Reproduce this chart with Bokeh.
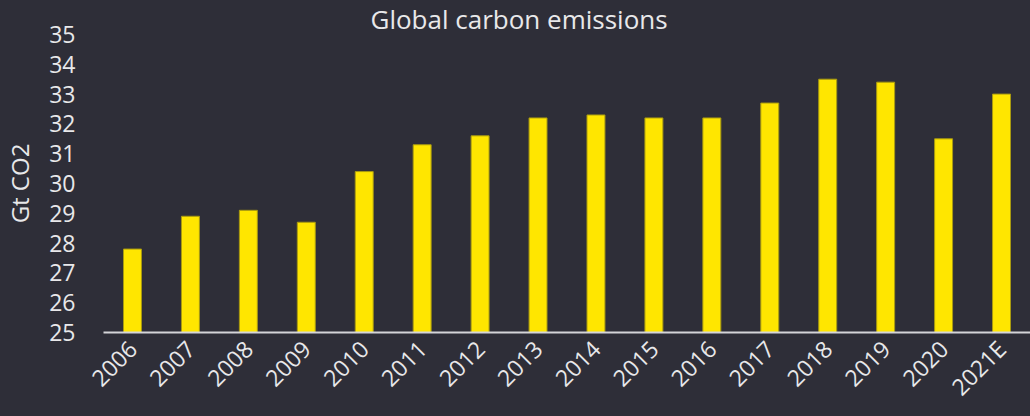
import math
from bokeh.plotting import figure
from bokeh.models import ColumnDataSource, FixedTicker, Range1d
from bokeh.embed import file_html
from bokeh.resources import INLINE

years = ["2006", "2007", "2008", "2009", "2010", "2011", "2012", "2013",
         "2014", "2015", "2016", "2017", "2018", "2019", "2020", "2021E"]
emissions = [27.8, 28.9, 29.1, 28.7, 30.4, 31.3, 31.6, 32.2,
             32.3, 32.2, 32.2, 32.7, 33.5, 33.4, 31.5, 33.0]
y_ticks = [25, 26, 27, 28, 29, 30, 31, 32, 33, 34, 35]

BG = "#2e2e38"
TXT = "#e8e8ea"
FONT = "Open Sans"

src = ColumnDataSource(dict(year=years, val=emissions))

p = figure(x_range=years, y_range=Range1d(25, 35), width=1030, height=416,
           output_backend="svg", toolbar_location=None,
           title="Global carbon emissions",
           min_border_left=100, min_border_right=0, min_border_top=30,
           min_border_bottom=83,
           background_fill_color=None, border_fill_color=None)
p.styles = {"background-color": BG}
p.outline_line_color = None

p.vbar(x="year", top="val", bottom=25, width=0.31, source=src,
       fill_color="#ffe600", line_color="#a89a10", line_width=1)

p.title.text_font = FONT
p.title.text_font_size = "26px"
p.title.text_font_style = "normal"
p.title.text_color = TXT
p.title.align = "left"
p.title.offset = 267
p.title.standoff = -4

p.xgrid.grid_line_color = None
p.ygrid.grid_line_color = None

p.yaxis.ticker = FixedTicker(ticks=y_ticks)
p.yaxis.axis_line_color = None
p.yaxis.major_tick_line_color = None
p.yaxis.minor_tick_line_color = None
p.yaxis.major_label_text_font = FONT
p.yaxis.major_label_text_font_size = "23px"
p.yaxis.major_label_text_color = TXT
p.yaxis.major_label_standoff = 22
p.yaxis.axis_label = "Gt CO2"
p.yaxis.axis_label_text_font = FONT
p.yaxis.axis_label_text_font_size = "24px"
p.yaxis.axis_label_text_font_style = "normal"
p.yaxis.axis_label_text_color = TXT
p.yaxis.axis_label_standoff = 10

p.xaxis.axis_line_color = "#d4d4d8"
p.xaxis.axis_line_width = 2
p.xaxis.major_tick_line_color = None
p.xaxis.minor_tick_line_color = None
p.xaxis.major_label_orientation = math.pi / 4
p.xaxis.major_label_text_font = FONT
p.xaxis.major_label_text_font_size = "23px"
p.xaxis.major_label_text_color = TXT
p.xaxis.major_label_standoff = 6

open("out.html", "w").write(file_html(p, INLINE))
